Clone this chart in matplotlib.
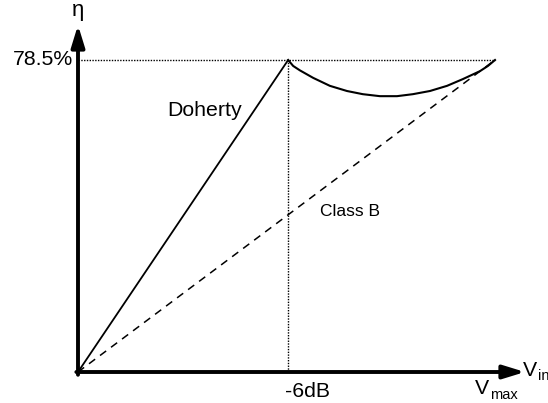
import matplotlib

matplotlib.use("Agg")
import matplotlib.pyplot as plt

# Tensão de entrada normalizada por Vmax e eficiência em %
ETA_MAX = 78.5
V_BACKOFF = 0.504  # ponto de -6 dB

v_doherty_baixo = [0.0, V_BACKOFF]
eta_doherty_baixo = [0.0, ETA_MAX]

v_doherty_alto = [0.504, 0.516, 0.532, 0.564, 0.604, 0.645, 0.683, 0.724,
                  0.765, 0.803, 0.844, 0.885, 0.923, 0.964, 0.983, 1.0]
eta_doherty_alto = [78.5, 77.0, 75.9, 74.0, 72.0, 70.7, 69.9, 69.4,
                    69.4, 69.9, 70.7, 72.0, 73.7, 75.7, 77.0, 78.5]

v_classe_b = [0.0, 1.0]
eta_classe_b = [0.0, ETA_MAX]

plt.rcParams["font.family"] = ["Liberation Sans", "DejaVu Sans"]

fig = plt.figure(figsize=(5.48, 4.03), dpi=100)
L, B = 78 / 548, (403 - 372) / 403
W, H = (525 - 78) / 548, (372 - 25) / 403
ax = fig.add_axes([L, B, W, H])
x_max = (525 - 78) / 417
y_max = ETA_MAX * (372 - 25) / 312
ax.set_xlim(0, x_max)
ax.set_ylim(0, y_max)
ax.axis("off")

# curvas
ax.plot(v_doherty_baixo, eta_doherty_baixo, color="black", lw=1.3, solid_capstyle="butt")
ax.plot(v_doherty_alto, eta_doherty_alto, color="black", lw=1.5,
        solid_joinstyle="round")
ax.plot(v_classe_b, eta_classe_b, color="black", lw=1.1, dashes=(5, 4))

# linhas de referência pontilhadas
ax.plot([0, 1.0], [ETA_MAX, ETA_MAX], color="black", lw=1.0, ls=(0, (1, 1)))
ax.plot([V_BACKOFF, V_BACKOFF], [0, ETA_MAX], color="black", lw=1.0, ls=(0, (1, 1)))

# eixos com setas
seta = dict(arrowstyle="-|>,head_length=1.3,head_width=0.4", lw=2.8,
            color="black", shrinkA=0, shrinkB=0)
ax.annotate("", xy=(0, y_max), xytext=(0, -0.7), arrowprops=seta,
            annotation_clip=False)
ax.annotate("", xy=(x_max, 0), xytext=(-0.004, 0), arrowprops=seta,
            annotation_clip=False)

ax.text(0, y_max + 1.0, "η", ha="center", va="bottom", fontsize=16)
ax.text(-0.012, ETA_MAX, "78.5%", ha="right", va="center", fontsize=15.3)
ax.text(0.496, -2.6, "-6dB", ha="left", va="top", fontsize=15.3)
ax.text(0.952, -5.5, "V", ha="left", va="baseline", fontsize=15.3)
ax.text(0.988, -6.8, "max", ha="left", va="baseline", fontsize=10.5)
ax.text(1.067, -1.0, "V", ha="left", va="baseline", fontsize=15.3)
ax.text(1.103, -2.0, "in", ha="left", va="baseline", fontsize=10.5)
ax.text(0.213, 65.9, "Doherty", ha="left", va="center", fontsize=15.3)
ax.text(0.58, 40.4, "Class B", ha="left", va="center", fontsize=12.5)

fig.savefig("out.png", dpi=100)
